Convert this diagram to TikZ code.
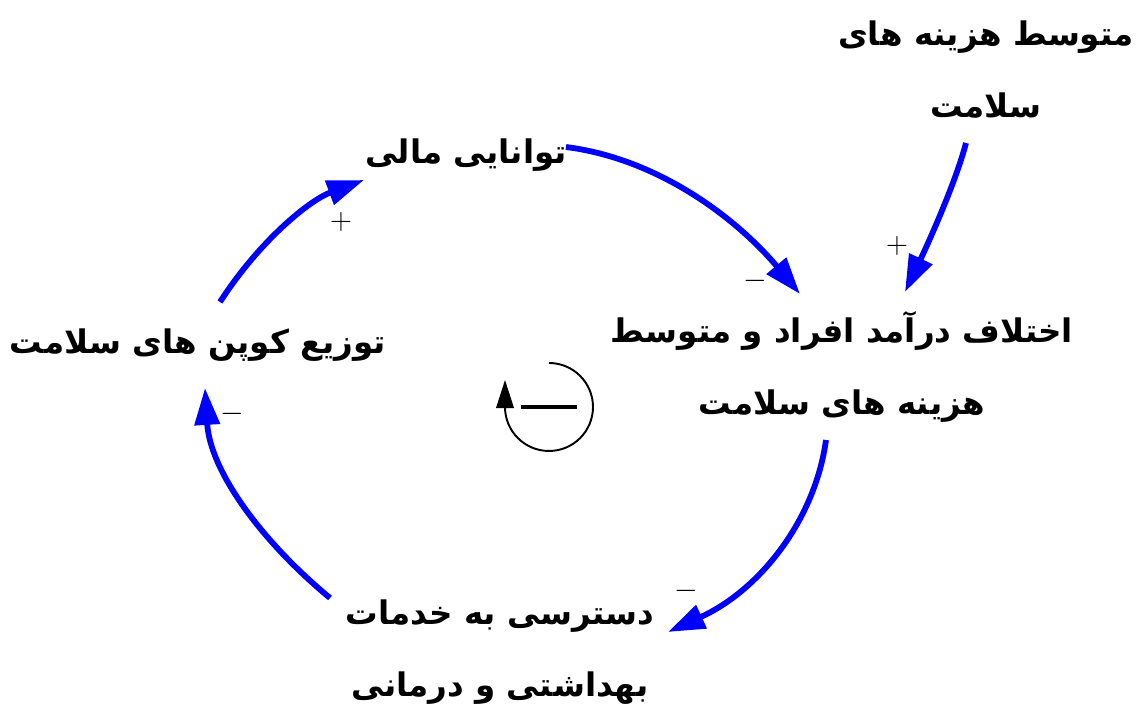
\documentclass[tikz,border=0pt]{standalone}
\usepackage{fontspec}
\newfontfamily\fa[Script=Arabic]{DejaVu Sans}
\TeXXeTstate=1
\usetikzlibrary{arrows.meta}
\begin{document}
\begin{tikzpicture}[x=0.02cm,y=-0.02cm,
  lbl/.style={font=\fa\bfseries\fontsize{18.5}{41}\selectfont, align=center, inner sep=0pt},
  sgn/.style={font=\fontsize{17}{19}\selectfont, inner sep=0pt},
  conn/.style={draw=blue, line width=3.3pt, -{Triangle[length=21pt,width=14pt]}}]
\useasboundingbox (0,0) rectangle (1137,715);
% variables
\node[lbl] (cost) at (986,70) {\beginR متوسط هزینه های\endR\\\beginR سلامت\endR};
\node[lbl] (fin) at (466,155) {\beginR توانایی مالی\endR};
\node[lbl] (gap) at (842,367) {\beginR اختلاف درآمد افراد و متوسط\endR\\\beginR هزینه های سلامت\endR};
\node[lbl] (coupon) at (198,345) {\beginR توزیع کوپن های سلامت\endR};
\node[lbl] (access) at (500,652) {\beginR دسترسی به خدمات\endR\\\beginR بهداشتی و درمانی\endR};
% connectors
\draw[conn] ([shift={(100,-8)}]fin.center) .. controls +(94,12) and +(-62,-74) .. ([shift={(-42,-73)}]gap.center);
\draw[conn] ([shift={(-20,73)}]cost.center) .. controls +(-11,42) and +(20,-42) .. ([shift={(63,-75)}]gap.center);
\draw[conn] ([shift={(-16,73)}]gap.center) .. controls +(-11,80) and +(92,-42) .. ([shift={(168,-20)}]access.center);
\draw[conn] ([shift={(-170,-54)}]access.center) .. controls +(-70,-58) and +(5,82) .. ([shift={(7,43)}]coupon.center);
\draw[conn] ([shift={(22,-43)}]coupon.center) .. controls +(40,-62) and +(-54,20) .. ([shift={(-102,25)}]fin.center);
% polarity signs
\node[sgn] (s1) at (341,222) {$+$};
\node[sgn] (s2) at (755,281) {$-$};
\node[sgn] (s3) at (897,246) {$+$};
\node[sgn] (s4) at (686,591) {$-$};
\node[sgn] (s5) at (232,414) {$-$};
% loop symbol
\coordinate (loopc) at (549,407);
\draw[line width=1.1pt, -{Triangle[length=16pt,width=10pt]}] ([shift={(0,-44)}]loopc) arc[start angle=90, end angle=-180, radius=0.88cm] -- ++(0,-27);
\draw[line width=2.2pt] ([shift={(-28,0)}]loopc) -- ([shift={(28,0)}]loopc);
\end{tikzpicture}
\end{document}
